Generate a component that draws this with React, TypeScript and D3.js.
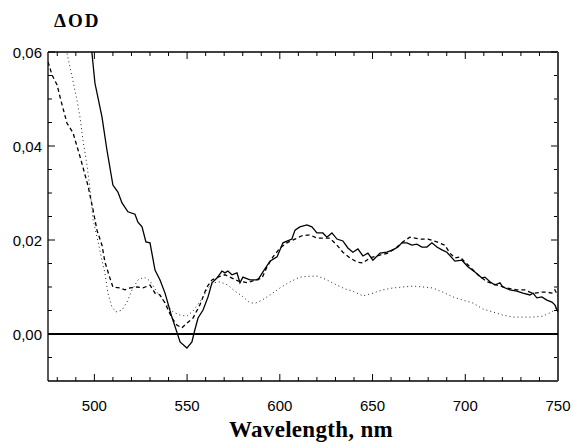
import React from "react";
import * as d3 from "d3";

const solidW = [498, 498.7, 500.3, 504.1, 506.8, 510.0, 512.7, 514.9, 518.1, 521.9, 523.5, 525.7, 527.8, 530.0, 532.7, 535.4, 538.1, 541.8, 544.5, 546.2, 549.9, 552.6, 554.2, 555.9, 558.6, 561.3, 563.4, 566.1, 568.8, 570.4, 572.0, 574.2, 576.9, 578.5, 580.1, 583.9, 588.2, 590.9, 594.7, 598.5, 601.7, 606.5, 608.2, 610.8, 614.6, 617.3, 620.0, 623.2, 625.4, 628.1, 630.8, 634.0, 636.7, 639.4, 642.1, 644.8, 647.5, 650.2, 654.0, 657.7, 661.0, 663.7, 665.8, 668.5, 671.2, 673.9, 676.6, 679.3, 682.0, 684.7, 687.4, 690.1, 694.4, 698.2, 701.4, 705.2, 709.0, 710.6, 713.3, 716.0, 718.7, 720.3, 724.1, 727.8, 731.1, 734.8, 736.5, 738.6, 741.3, 744.0, 746.7, 748.3, 750.0];
const solidV = [0.064, 0.0598, 0.0534, 0.0462, 0.0391, 0.0317, 0.0302, 0.0279, 0.0260, 0.0255, 0.0238, 0.0228, 0.0196, 0.0194, 0.0136, 0.0115, 0.0087, 0.0036, 0.0004, -0.0017, -0.0030, -0.0017, 0.0009, 0.0034, 0.0051, 0.0079, 0.0109, 0.0119, 0.0134, 0.0130, 0.0134, 0.0126, 0.0130, 0.0109, 0.0121, 0.0115, 0.0115, 0.0132, 0.0155, 0.0164, 0.0194, 0.0202, 0.0221, 0.0228, 0.0232, 0.0228, 0.0215, 0.0215, 0.0206, 0.0215, 0.0202, 0.0198, 0.0183, 0.0174, 0.0181, 0.0166, 0.0172, 0.0157, 0.0172, 0.0174, 0.0179, 0.0185, 0.0194, 0.0194, 0.0189, 0.0191, 0.0185, 0.0185, 0.0194, 0.0185, 0.0179, 0.0174, 0.0155, 0.0157, 0.0143, 0.0132, 0.0119, 0.0121, 0.0111, 0.0104, 0.0109, 0.0100, 0.0094, 0.0091, 0.0087, 0.0083, 0.0087, 0.0077, 0.0079, 0.0072, 0.0068, 0.0062, 0.0047];

const dashedW = [475, 477.2, 479.9, 481.5, 485.2, 488.5, 492.3, 496.6, 499.3, 501.4, 504.1, 505.7, 508.4, 510.0, 513.8, 516.5, 519.2, 523.0, 526.2, 530.0, 532.7, 535.4, 538.1, 541.8, 544.5, 547.2, 549.9, 553.2, 556.9, 560.7, 563.4, 566.6, 570.4, 574.2, 577.4, 582.8, 586.6, 590.4, 593.1, 596.3, 600.1, 603.8, 608.2, 611.9, 616.2, 620.0, 623.2, 627.0, 630.8, 634.0, 637.8, 641.6, 644.8, 648.6, 654.0, 658.3, 663.1, 666.4, 670.1, 675.5, 679.9, 684.7, 689.0, 691.7, 694.4, 697.1, 702.5, 706.8, 711.7, 717.1, 722.4, 727.8, 732.1, 734.8, 737.5, 741.3, 744.0, 746.7, 748.3, 750];
const dashedV = [0.0579, 0.0551, 0.0530, 0.0504, 0.0449, 0.0428, 0.0377, 0.0315, 0.0264, 0.0221, 0.0189, 0.0153, 0.0119, 0.0100, 0.0098, 0.0094, 0.0098, 0.0100, 0.0098, 0.0104, 0.0087, 0.0083, 0.0066, 0.0034, 0.0019, 0.0013, 0.0023, 0.0034, 0.0062, 0.0100, 0.0115, 0.0121, 0.0126, 0.0119, 0.0113, 0.0109, 0.0115, 0.0119, 0.0143, 0.0164, 0.0183, 0.0194, 0.0202, 0.0209, 0.0211, 0.0204, 0.0204, 0.0204, 0.0189, 0.0174, 0.0162, 0.0153, 0.0151, 0.0162, 0.0168, 0.0172, 0.0185, 0.0196, 0.0206, 0.0202, 0.0202, 0.0196, 0.0189, 0.0172, 0.0162, 0.0164, 0.0143, 0.0126, 0.0111, 0.0104, 0.0098, 0.0094, 0.0094, 0.0089, 0.0087, 0.0089, 0.0089, 0.0087, 0.0094, 0.0081];

const dottedW = [483.5, 485.2, 487.9, 490.6, 492.3, 493.9, 496.0, 497.6, 499.3, 502.0, 504.1, 505.7, 507.3, 509.5, 511.7, 514.9, 517.6, 520.3, 523.5, 526.8, 530.0, 533.8, 538.1, 542.4, 546.2, 549.9, 553.2, 557.5, 561.3, 564.5, 567.7, 572.0, 575.8, 579.6, 583.9, 587.1, 590.4, 594.7, 600.1, 605.5, 610.8, 616.2, 620.5, 625.4, 630.8, 635.1, 639.4, 644.8, 650.2, 655.6, 661.0, 666.4, 671.8, 677.2, 682.5, 687.9, 693.3, 698.7, 704.1, 709.5, 714.9, 720.3, 725.7, 731.1, 736.5, 741.9, 745.6, 748.3, 750];
const dottedV = [0.063, 0.0598, 0.0549, 0.0498, 0.0460, 0.0411, 0.0360, 0.0311, 0.0243, 0.0196, 0.0157, 0.0130, 0.0087, 0.0057, 0.0047, 0.0051, 0.0068, 0.0094, 0.0115, 0.0121, 0.0113, 0.0089, 0.0066, 0.0047, 0.0040, 0.0038, 0.0049, 0.0072, 0.0098, 0.0109, 0.0111, 0.0104, 0.0091, 0.0081, 0.0066, 0.0066, 0.0072, 0.0083, 0.0098, 0.0111, 0.0121, 0.0123, 0.0123, 0.0115, 0.0104, 0.0096, 0.0091, 0.0081, 0.0087, 0.0094, 0.0098, 0.0100, 0.0102, 0.0100, 0.0098, 0.0089, 0.0079, 0.0072, 0.0066, 0.0053, 0.0047, 0.0040, 0.0036, 0.0036, 0.0036, 0.0038, 0.0045, 0.0051, 0.0062];

const xTicks = [500, 550, 600, 650, 700, 750];
const yTicks = [0, 0.02, 0.04, 0.06];

const W = 573, H = 444;
const L = 48, R = 558, T = 52, B = 381;

export default function App() {
  const x = d3.scaleLinear().domain([475, 750]).range([L, R]);
  const y = d3.scaleLinear().domain([-0.01, 0.06]).range([B, T]);
  const line = d3.line<[number, number]>().x(d => x(d[0])).y(d => y(d[1]));
  const mk = (ws: number[], vs: number[]) => line(ws.map((w, i) => [w, vs[i]] as [number, number])) || "";
  const xMinor = d3.range(480, 751, 10);
  const yMinor = d3.range(-0.005, 0.0601, 0.005);
  const isMajorX = (t: number) => Math.abs(t % 50) < 0.01;
  const isMajorY = (t: number) => Math.abs(Math.round(t * 1000) % 20) < 0.5;
  const fmt = (v: number) => v.toFixed(2).replace(".", ",");
  return (
    <svg width={W} height={H} style={{ position: "absolute", left: 0, top: 0, background: "#fff" }}>
      <defs>
        <clipPath id="plot"><rect x={L} y={T} width={R - L} height={B - T} /></clipPath>
      </defs>
      <rect width={W} height={H} fill="#fff" />
      {xMinor.map(t => {
        const len = isMajorX(t) ? 7 : 4;
        return (
          <g key={"xt" + t} stroke="#000" strokeWidth={1}>
            <line x1={x(t)} x2={x(t)} y1={B} y2={B - len} />
            <line x1={x(t)} x2={x(t)} y1={T} y2={T + len} />
          </g>
        );
      })}
      {yMinor.map(t => {
        const len = isMajorY(t) ? 7 : 4;
        return (
          <g key={"yt" + t.toFixed(3)} stroke="#000" strokeWidth={1}>
            <line x1={L} x2={L + len} y1={y(t)} y2={y(t)} />
            <line x1={R} x2={R - len} y1={y(t)} y2={y(t)} />
          </g>
        );
      })}
      <line x1={L} x2={R} y1={T} y2={T} stroke="#000" strokeWidth={1.3} />
      <line x1={L} x2={R} y1={B} y2={B} stroke="#000" strokeWidth={1.3} />
      <line x1={L} x2={L} y1={T} y2={B} stroke="#000" strokeWidth={1.3} />
      <line x1={R} x2={R} y1={T} y2={B} stroke="#444" strokeWidth={2} />
      <line x1={L} x2={R} y1={y(0)} y2={y(0)} stroke="#000" strokeWidth={2} />
      <g clipPath="url(#plot)" fill="none">
        <path d={mk(dottedW, dottedV)} stroke="#222" strokeWidth={1} strokeDasharray="1,3" />
        <path d={mk(dashedW, dashedV)} stroke="#000" strokeWidth={1.3} strokeDasharray="4,3" />
        <path d={mk(solidW, solidV)} stroke="#000" strokeWidth={1.3} />
      </g>
      <g fontFamily="'Liberation Sans', Arial, sans-serif" fontSize={15} fill="#000">
        {yTicks.map(t => (
          <text key={"yl" + t} x={L - 6} y={y(t)} textAnchor="end" dominantBaseline="central">{fmt(t)}</text>
        ))}
        {xTicks.map(t => (
          <text key={"xl" + t} x={x(t)} y={411} textAnchor="middle">{t}</text>
        ))}
      </g>
      <text x={311} y={437} textAnchor="middle" fontFamily="'Liberation Serif', 'Times New Roman', serif" fontWeight="bold" fontSize={23} letterSpacing={0.3}>Wavelength, nm</text>
      <text x={54} y={27} fontFamily="'Liberation Serif', 'Times New Roman', serif" fontWeight="bold" fontSize={19} letterSpacing={2}>ΔOD</text>
    </svg>
  );
}
